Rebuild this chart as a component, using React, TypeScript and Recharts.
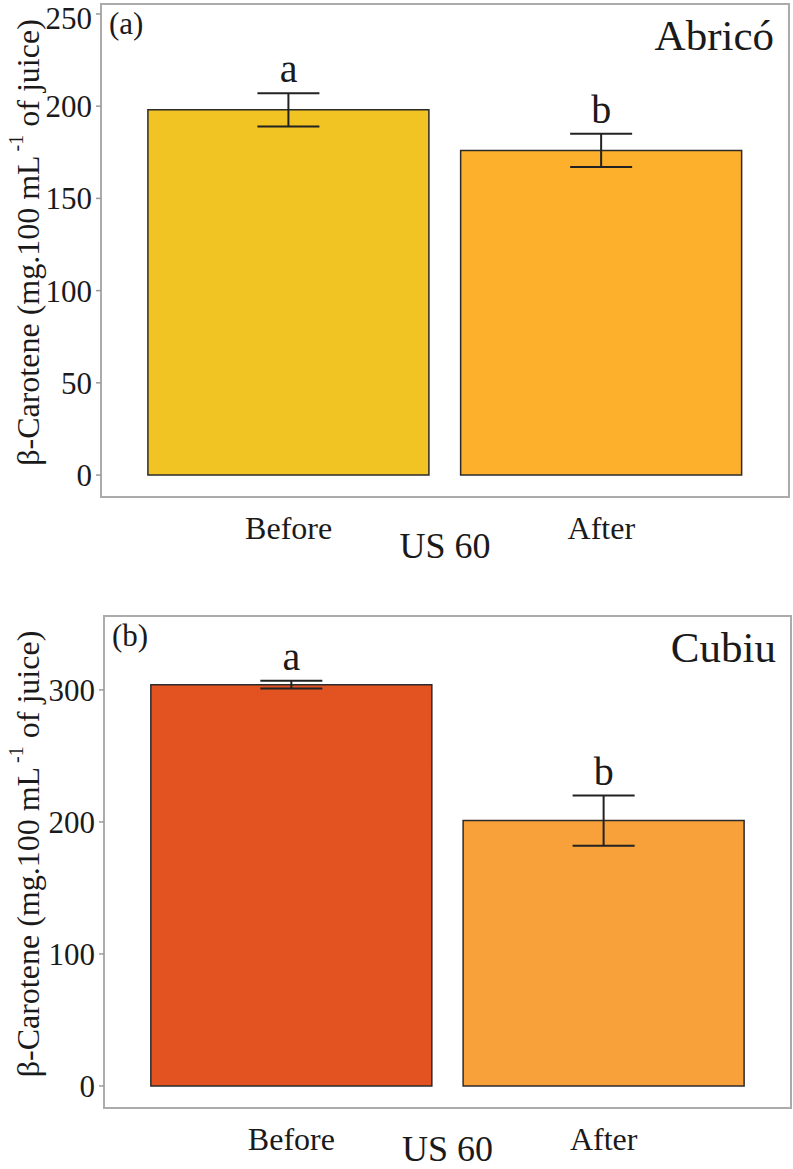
import {
  BarChart,
  Bar,
  XAxis,
  YAxis,
  ErrorBar,
  Cell,
  ReferenceArea,
  ReferenceDot,
  Label,
} from 'recharts'

// shared x categories (US 60 treatment)
const categories = ['Before', 'After']
const xPositions = [1, 2]
const treatmentLabel = 'US 60'

// (a) Abricó
const abricoMeans = [198, 176]
const abricoErrors = [9, 9]
const abricoLetters = ['a', 'b']
const abricoTicks = [0, 50, 100, 150, 200, 250]

// (b) Cubiu
const cubiuMeans = [304, 201]
const cubiuErrors = [3, 19]
const cubiuLetters = ['a', 'b']
const cubiuTicks = [0, 100, 200, 300]

const SERIF = '"Liberation Serif", "Times New Roman", serif'
const INK = '#1a1a1a'
const X_DOMAIN: [number, number] = [0.4, 2.6]

function YTitle(props: any) {
  const { viewBox } = props
  const cx = viewBox.x + 28
  const cy = viewBox.y + viewBox.height / 2 - 8
  return (
    <text
      x={cx}
      y={cy}
      transform={`rotate(-90 ${cx} ${cy})`}
      textAnchor="middle"
      dominantBaseline="central"
      fontFamily={SERIF}
      fontSize={32}
      fill={INK}
    >
      β-Carotene (mg.100 mL
      <tspan fontSize={20} dx={4} dy={-12}>-1</tspan>
      <tspan dy={12}> of juice)</tspan>
    </text>
  )
}

interface PanelProps {
  tag: string
  title: string
  means: number[]
  errors: number[]
  letters: string[]
  ticks: number[]
  domain: [number, number]
  colors: string[]
  height: number
  margin: { top: number; right: number; bottom: number; left: number }
  yAxisWidth: number
  xAxisHeight: number
}

function Panel({
  tag,
  title,
  means,
  errors,
  letters,
  ticks,
  domain,
  colors,
  height,
  margin,
  yAxisWidth,
  xAxisHeight,
}: PanelProps) {
  const data = categories.map((name, i) => ({
    name,
    pos: xPositions[i],
    mean: means[i],
    err: errors[i],
    letter: letters[i],
  }))

  return (
    <BarChart
      width={793}
      height={height}
      data={data}
      margin={margin}
      barCategoryGap="5%"
      barGap={0}
      style={{ overflow: 'visible' }}
    >
      <XAxis
        type="number"
        dataKey="pos"
        domain={X_DOMAIN}
        ticks={xPositions}
        tickFormatter={(v) => categories[xPositions.indexOf(v)]}
        axisLine={false}
        tickLine={false}
        tickMargin={13}
        height={xAxisHeight}
        tick={{ fontSize: 32, fill: INK, fontFamily: SERIF }}
      >
        <Label value={treatmentLabel} position="insideBottom" offset={0} fontSize={36} fill={INK} fontFamily={SERIF} />
      </XAxis>
      <YAxis
        type="number"
        domain={domain}
        ticks={ticks}
        width={yAxisWidth}
        axisLine={false}
        tickLine={{ stroke: '#9a9a9a', strokeWidth: 1.5 }}
        tickSize={5}
        tickMargin={4}
        allowDataOverflow
        tick={{ fontSize: 31, fill: INK, fontFamily: SERIF }}
      >
        <Label content={YTitle} />
      </YAxis>
      <ReferenceArea
        x1={X_DOMAIN[0]}
        x2={X_DOMAIN[1]}
        y1={domain[0]}
        y2={domain[1]}
        fill="none"
        fillOpacity={0}
        stroke="#ababab"
        strokeWidth={2}
        ifOverflow="visible"
        label={{ value: tag, position: 'insideTopLeft', offset: 8, fontSize: 31, fill: INK, fontFamily: SERIF }}
      />
      <ReferenceArea
        x1={X_DOMAIN[0]}
        x2={X_DOMAIN[1]}
        y1={domain[0]}
        y2={domain[1]}
        fill="none"
        fillOpacity={0}
        stroke="none"
        ifOverflow="visible"
        label={{ value: title, position: 'insideTopRight', offset: 15, fontSize: 43, fill: INK, fontFamily: SERIF }}
      />
      <Bar dataKey="mean" stroke="#2b2b2b" strokeWidth={1.5} isAnimationActive={false}>
        {data.map((d, i) => (
          <Cell key={d.name} fill={colors[i]} />
        ))}
        <ErrorBar dataKey="err" width={31} stroke="#222" strokeWidth={2} isAnimationActive={false} />
      </Bar>
      {data.map((d) => (
        <ReferenceDot
          key={d.name}
          x={d.pos}
          y={d.mean + d.err}
          r={0}
          fill="none"
          stroke="none"
          ifOverflow="visible"
          label={{ value: d.letter, position: 'top', offset: 11, fontSize: 40, fill: INK, fontFamily: SERIF }}
        />
      ))}
    </BarChart>
  )
}

export default function App() {
  return (
    <div style={{ position: 'absolute', left: 0, top: 0, width: 793, height: 1169, background: '#fff', overflow: 'hidden' }}>
      <Panel
        tag="(a)"
        title="Abricó"
        means={abricoMeans}
        errors={abricoErrors}
        letters={abricoLetters}
        ticks={abricoTicks}
        domain={[-11.9, 255.4]}
        colors={['#F1C424', '#FCB02B']}
        height={575}
        margin={{ top: 4, right: 4, bottom: 17, left: 0 }}
        yAxisWidth={101}
        xAxisHeight={61}
      />
      <Panel
        tag="(b)"
        title="Cubiu"
        means={cubiuMeans}
        errors={cubiuErrors}
        letters={cubiuLetters}
        ticks={cubiuTicks}
        domain={[-16.7, 356]}
        colors={['#E35322', '#F8A03A']}
        height={594}
        margin={{ top: 41, right: 2, bottom: 8, left: 0 }}
        yAxisWidth={104}
        xAxisHeight={53}
      />
    </div>
  )
}
